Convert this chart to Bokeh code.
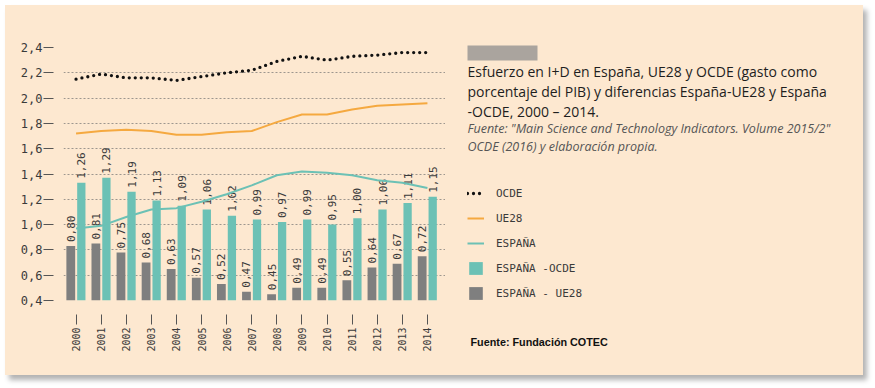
import math
from bokeh.plotting import figure
from bokeh.layouts import row
from bokeh.models import (Range1d, FixedTicker, ColumnDataSource, Legend,
                          LegendItem, Label, BoxAnnotation)
from bokeh.transform import dodge
from bokeh.core.properties import value
from bokeh.embed import file_html
from bokeh.resources import INLINE

# ---------------- data ----------------
years = [2000, 2001, 2002, 2003, 2004, 2005, 2006, 2007,
         2008, 2009, 2010, 2011, 2012, 2013, 2014]
year_labels = ["2000", "2001", "2002", "2003", "2004", "2005", "2006", "2007",
               "2008", "2009", "2010", "2011", "2012", "2013", "2014"]

ocde = [2.15, 2.19, 2.16, 2.16, 2.14, 2.17, 2.20, 2.22,
        2.29, 2.33, 2.30, 2.33, 2.34, 2.36, 2.36]
ue28 = [1.72, 1.74, 1.75, 1.74, 1.71, 1.71, 1.73, 1.74,
        1.81, 1.87, 1.87, 1.91, 1.94, 1.95, 1.96]
espana = [0.97, 0.99, 1.06, 1.12, 1.13, 1.18, 1.24, 1.31,
          1.39, 1.42, 1.41, 1.39, 1.35, 1.33, 1.29]

# bars (heights as drawn) and their printed labels
dif_ocde = [1.33, 1.37, 1.26, 1.19, 1.15, 1.12, 1.07, 1.04,
            1.02, 1.04, 1.00, 1.05, 1.12, 1.17, 1.22]
dif_ue28 = [0.83, 0.85, 0.78, 0.70, 0.65, 0.58, 0.53, 0.47,
            0.45, 0.50, 0.50, 0.56, 0.66, 0.69, 0.75]
lab_ocde = ["1,26", "1,29", "1,19", "1,13", "1,09", "1,06", "1,02", "0,99",
            "0,97", "0,99", "0,95", "1,00", "1,06", "1,11", "1,15"]
lab_ue28 = ["0,80", "0,81", "0,75", "0,68", "0,63", "0,57", "0,52", "0,47",
            "0,45", "0,49", "0,49", "0,55", "0,64", "0,67", "0,72"]

y_ticks = [0.4, 0.6, 0.8, 1.0, 1.2, 1.4, 1.6, 1.8, 2.0, 2.2, 2.4]
y_tick_labels = ["0,4", "0,6", "0,8", "1,0", "1,2", "1,4", "1,6", "1,8",
                 "2,0", "2,2", "2,4"]

legend_labels = ["OCDE", "UE28", "ESPAÑA", "ESPAÑA -OCDE", "ESPAÑA - UE28"]
title_lines = ["Esfuerzo en I+D en España, UE28 y OCDE (gasto como",
               "porcentaje del PIB) y diferencias España-UE28 y España",
               "-OCDE, 2000 – 2014."]
source_lines = ["Fuente: \"Main Science and Technology Indicators. Volume 2015/2\"",
                "OCDE (2016) y elaboración propia."]
footer = "Fuente: Fundación COTEC"

# ---------------- style ----------------
BG = "#fde8d0"
TEAL = "#6cc1b5"
GRAY = "#7f7f7f"
ORANGE = "#f5a940"
TEXT = "#3a3a3a"
MONO = "DejaVu Sans Mono"

src = ColumnDataSource(dict(year=years, ocde=ocde, ue28=ue28, espana=espana,
                            dif_ocde=dif_ocde, dif_ue28=dif_ue28,
                            lab_ocde=lab_ocde, lab_ue28=lab_ue28))

p = figure(width=440, height=370,
           min_border_left=58, min_border_right=0,
           min_border_top=42, min_border_bottom=75,
           x_range=Range1d(1999.5, 2014.72), y_range=Range1d(0.4, 2.4),
           output_backend="svg", toolbar_location=None,
           background_fill_color=BG, border_fill_color=BG,
           outline_line_color=None, frame_align=False)

# grid
p.xgrid.visible = False
p.ygrid.ticker = FixedTicker(ticks=y_ticks)
p.ygrid.grid_line_color = "#9d968e"
p.ygrid.grid_line_dash = "2 2"
p.ygrid.grid_line_width = 1

# y axis
yax = p.yaxis[0]
yax.ticker = FixedTicker(ticks=y_ticks)
yax.major_label_overrides = dict(zip(y_ticks, y_tick_labels))
yax.axis_line_color = None
yax.major_tick_in = -10
yax.major_tick_out = 20
yax.minor_tick_line_color = None
yax.major_tick_line_color = "#555555"
yax.major_label_standoff = 1
yax.major_label_text_font = MONO
yax.major_label_text_font_size = "12px"
yax.major_label_text_color = TEXT

# x axis
xax = p.xaxis[0]
xax.ticker = FixedTicker(ticks=years)
xax.major_label_overrides = dict(zip(years, year_labels))
xax.axis_line_color = None
xax.major_tick_in = -14
xax.major_tick_out = 24
xax.minor_tick_line_color = None
xax.major_tick_line_color = "#555555"
xax.major_label_standoff = 3
xax.major_label_orientation = math.pi / 2
xax.major_label_text_font = MONO
xax.major_label_text_font_size = "10px"
xax.major_label_text_color = TEXT

# bars
bar_ue = dict(fill_color=GRAY, line_color=None)
bar_oc = dict(fill_color=TEAL, line_color=None)
p.vbar(x=dodge("year", -0.21, range=p.x_range), top="dif_ue28", bottom=0.4,
       width=0.35, source=src, **bar_ue)
p.vbar(x=dodge("year", 0.21, range=p.x_range), top="dif_ocde", bottom=0.4,
       width=0.33, source=src, **bar_oc)

# bar labels
lab_kw = dict(angle=math.pi / 2, text_align="left", text_baseline="middle",
              y_offset=-4, text_font=value(MONO), text_font_size="11px",
              text_color=TEXT, source=src)
p.text(x=dodge("year", -0.21, range=p.x_range), y="dif_ue28", text="lab_ue28", **lab_kw)
p.text(x=dodge("year", 0.21, range=p.x_range), y="dif_ocde", text="lab_ocde", **lab_kw)

# lines
line_es = dict(line_color=TEAL, line_width=2)
line_eu = dict(line_color=ORANGE, line_width=2)
line_od = dict(line_color="#111111", line_width=3.3, line_dash="0 6", line_cap="round")
p.line("year", "espana", source=src, **line_es)
p.line("year", "ue28", source=src, **line_eu)
p.line("year", "ocde", source=src, **line_od)

# ---------------- right panel: title, source, legend ----------------
p2 = figure(width=418, height=370, x_range=Range1d(0, 418), y_range=Range1d(0, 370),
            title=None, min_border=0, x_axis_type=None, y_axis_type=None,
            output_backend="svg", toolbar_location=None,
            background_fill_color=BG, border_fill_color=BG,
            outline_line_color=None, frame_align=False)
p2.grid.visible = False

# legend proxies: same series, outside this panel's visible range
k_od = p2.line("year", "ocde", source=src, **line_od)
k_eu = p2.line("year", "ue28", source=src, **line_eu)
k_es = p2.line("year", "espana", source=src, **line_es)
k_oc = p2.vbar(x="year", top="dif_ocde", width=1, source=src, **bar_oc)
k_ue = p2.vbar(x="year", top="dif_ue28", width=1, source=src, **bar_ue)

legend = Legend(items=[LegendItem(label=t, renderers=[r]) for t, r in
                       zip(legend_labels, [k_od, k_eu, k_es, k_oc, k_ue])],
                location=(22, 74), glyph_width=17, glyph_height=16,
                label_height=16, spacing=9, padding=0, margin=0,
                border_line_color=None, background_fill_alpha=0,
                label_standoff=12, label_text_font=MONO,
                label_text_font_size="11px", label_text_color=TEXT)
p2.add_layout(legend)

p2.add_layout(BoxAnnotation(left=22, right=92, bottom=315, top=330,
                            fill_color="#aaa49e", fill_alpha=1, line_color=None))

for txt, yy in zip(title_lines, [304.5, 284, 264.5]):
    p2.add_layout(Label(x=22, y=yy, text=txt,
                        text_font="Open Sans", text_font_size="14px",
                        text_color="#1e1e1e", text_baseline="alphabetic"))
for txt, yy in zip(source_lines, [247.5, 229]):
    p2.add_layout(Label(x=22, y=yy, text=txt,
                        text_font="Open Sans", text_font_size="12.5px",
                        text_font_style="italic",
                        text_color="#555555", text_baseline="alphabetic"))
p2.add_layout(Label(x=25, y=34, text=footer,
                    text_font="Liberation Sans", text_font_size="10.8px",
                    text_font_style="bold", text_color="#111111",
                    text_baseline="alphabetic"))

layout = row(p, p2, spacing=0, margin=(5, 0, 0, 5),
             styles={"box-shadow": "4px 5px 5px rgba(0,0,0,0.30)",
                     "background-color": BG})

open("out.html", "w").write(file_html(layout, INLINE))
